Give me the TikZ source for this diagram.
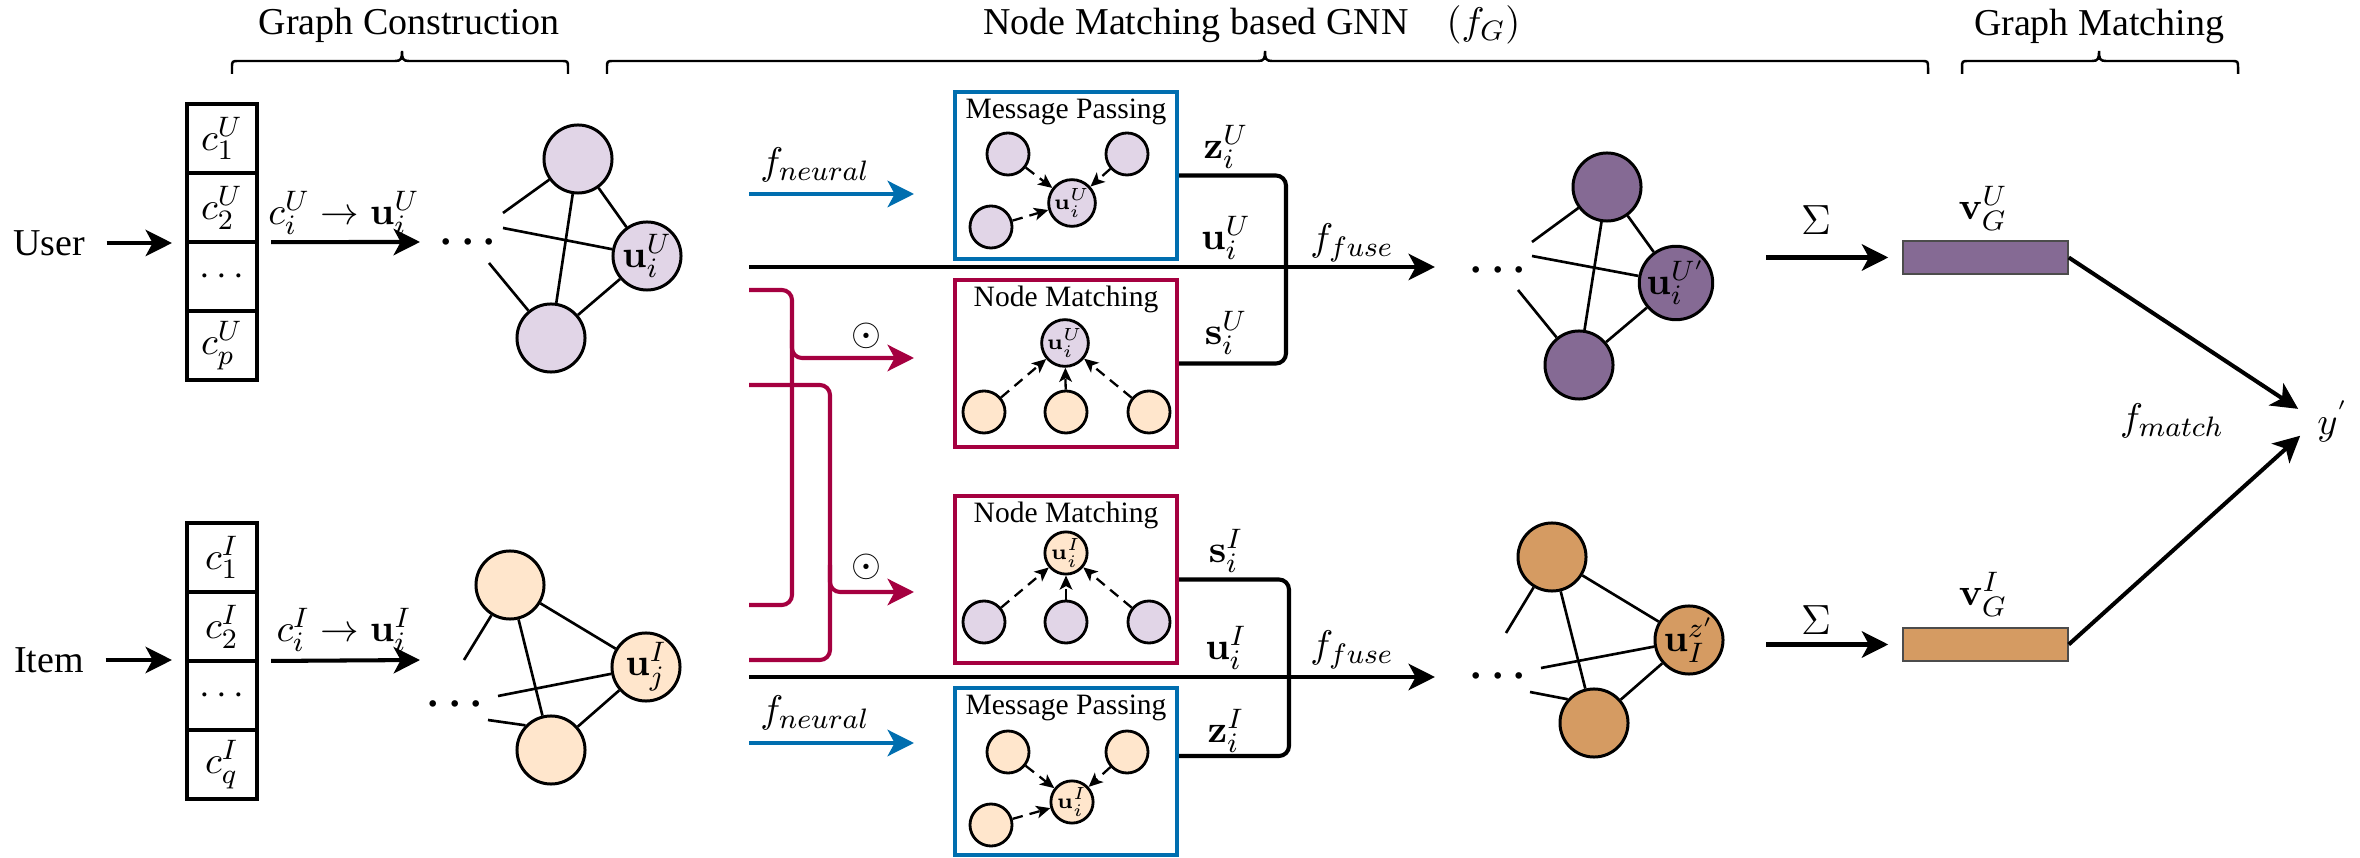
\documentclass[tikz,border=0pt]{standalone}
\usepackage[no-math]{fontspec}
\newfontfamily\tnr{Liberation Serif}
\usetikzlibrary{arrows.meta,calc}
\definecolor{lav}{HTML}{E1D5E7}
\definecolor{peach}{HTML}{FFE6CC}
\definecolor{dpur}{HTML}{856A94}
\definecolor{dora}{HTML}{D59B62}
\definecolor{mpblue}{HTML}{006EAF}
\definecolor{nmred}{HTML}{A50040}
\newcommand\mybrace[3]{%
 \draw[brc] (#1,74) -- (#1,68) .. controls (#1,61) .. ({#1+7},61) -- ({#3-7},61) .. controls ({#3-1},61) and (#3,59) .. (#3,51) .. controls (#3,59) and ({#3+1},61) .. ({#3+7},61) -- ({#2-7},61) .. controls (#2,61) .. (#2,68) -- (#2,74);}
\begin{document}
\begin{tikzpicture}[x=0.01cm,y=-0.01cm,
  every node/.style={font=\tnr\fontsize{10.8}{13}\selectfont, inner sep=0pt},
  arr/.style={line width=1.15pt,-{Stealth[length=7.5pt,width=7.5pt,inset=2pt]}},
  brc/.style={line width=0.7pt},
  brk/.style={line width=1.15pt,rounded corners=0.1cm},
  crl/.style={line width=1.15pt,draw=nmred,rounded corners=0.1cm},
  cell/.style={rectangle,draw,line width=1.2pt,outer sep=0pt,minimum width=0.70cm,minimum height=0.69cm,inner sep=0pt},
  gnode/.style={circle,draw,line width=0.85pt,minimum size=0.68cm,inner sep=0pt},
  snode/.style={circle,draw,line width=0.8pt,minimum size=0.42cm,inner sep=0pt,font=\fontsize{6.5}{7}\selectfont},
  gedge/.style={line width=0.75pt},
  darr/.style={line width=0.65pt,dash pattern=on 3pt off 2pt,-{Stealth[length=4pt,width=3.6pt,inset=1pt]}},
  mpb/.style={rectangle,draw=mpblue,line width=1.1pt,minimum width=2.22cm,minimum height=1.67cm},
  nmb/.style={rectangle,draw=nmred,line width=1.1pt,minimum width=2.22cm,minimum height=1.67cm},
  ttl/.style={anchor=base,font=\tnr\fontsize{8.4}{10}\selectfont},
  dots/.style={font=\fontsize{13}{15}\selectfont\boldmath},
  vrect/.style={rectangle,draw=black!70,line width=0.4pt,minimum width=1.65cm,minimum height=0.33cm}
]
\useasboundingbox (0,0) rectangle (2360,858);

% ---------- headers ----------
\node[anchor=base] (hGC) at (409,35) {Graph Construction};
\node[anchor=base] (hNM) at (1252,35) {Node Matching based GNN\quad$(f_G)$};
\node[anchor=base] (hGM) at (2099,36) {Graph Matching};
\mybrace{232}{568}{402}
\mybrace{607}{1928}{1265}
\mybrace{1962}{2238}{2099}

% ---------- user construction ----------
\node (user) at (49,243) {User};
\node[cell] (cu1) at (222,138.5) {$c_1^U$};
\node[cell,anchor=north] (cu2) at (cu1.south) {$c_2^U$};
\node[cell,anchor=north] (cu3) at (cu2.south) {$\cdots$};
\node[cell,anchor=north] (cu4) at (cu3.south) {$c_p^U$};
\draw[arr,shorten <=0.21cm,shorten >=0.15cm] (user.east) -- (user.east -| cu2.south west);
\coordinate (aU) at (420,242);
\draw[arr,shorten <=0.14cm] (cu2.south east) -- (aU);
\node (lU) at (344,213) {$c_i^U \rightarrow \mathbf{u}_i^U$};
\node[dots] (dU) at (468,243) {$\cdots$};

\node[gnode,fill=lav] (gUt) at (578,159) {};
\node[gnode,fill=lav] (gUu) at (647,256) {$\mathbf{u}_i^U$};
\node[gnode,fill=lav] (gUb) at (551,338) {};
\coordinate (fU1) at (503,213);
\coordinate (fU2) at (503,228);
\coordinate (fU3) at (489,263);
\draw[gedge] (fU1) -- (gUt);
\draw[gedge] (fU2) -- (gUu);
\draw[gedge] (fU3) -- (gUb);
\draw[gedge] (gUt) -- (gUb);
\draw[gedge] (gUt) -- (gUu);
\draw[gedge] (gUu) -- (gUb);

% ---------- item construction ----------
\node (item) at (49,660) {Item};
\node[cell] (ci1) at (222,557.5) {$c_1^I$};
\node[cell,anchor=north] (ci2) at (ci1.south) {$c_2^I$};
\node[cell,anchor=north] (ci3) at (ci2.south) {$\cdots$};
\node[cell,anchor=north] (ci4) at (ci3.south) {$c_q^I$};
\draw[arr,shorten <=0.21cm,shorten >=0.15cm] (item.east) -- (item.east -| ci2.south west);
\coordinate (aI) at (420,660);
\draw[arr,shorten <=0.14cm] (ci2.south east) -- (aI);
\node (lI) at (344,630) {$c_i^I \rightarrow \mathbf{u}_i^I$};
\node[dots] (dI) at (455,705) {$\cdots$};

\node[gnode,fill=peach] (gIt) at (510,585) {};
\node[gnode,fill=peach] (gIu) at (646,667) {$\mathbf{u}_j^I$};
\node[gnode,fill=peach] (gIb) at (551,750) {};
\coordinate (fI1) at (464,660);
\coordinate (fI2) at (498,696);
\coordinate (fI3) at (488,720);
\draw[gedge] (fI1) -- (gIt);
\draw[gedge] (fI2) -- (gIu);
\draw[gedge] (fI3) -- (gIb.136);
\draw[gedge] (gIt) -- (gIb);
\draw[gedge] (gIt) -- (gIu);
\draw[gedge] (gIu) -- (gIb);

% ---------- message passing (user) ----------
\node[mpb] (mp1) at (1066,175.5) {};
\node[ttl] (mp1t) at (1066,119) {Message Passing};
\node[snode,fill=lav] (m1a) at (1008,154) {};
\node[snode,fill=lav] (m1b) at (1127,154) {};
\node[snode,fill=lav] (m1c) at (991,227) {};
\node[snode,fill=lav] (m1u) at (1072,203) {$\mathbf{u}_i^U$};
\draw[darr] (m1a) -- (m1u);
\draw[darr] (m1b) -- (m1u);
\draw[darr] (m1c) -- (m1u);

% ---------- node matching (user) ----------
\node[nmb] (nm1) at (1066,363.5) {};
\node[ttl] (nm1t) at (1066,307) {Node Matching};
\node[snode,fill=lav] (n1u) at (1065,343) {$\mathbf{u}_i^U$};
\node[snode,fill=peach] (n1a) at (984,412) {};
\node[snode,fill=peach] (n1b) at (1066,412) {};
\node[snode,fill=peach] (n1c) at (1149,412) {};
\draw[darr] (n1a) -- (n1u);
\draw[darr] (n1b) -- (n1u);
\draw[darr] (n1c) -- (n1u);

% ---------- node matching (item) ----------
\node[nmb] (nm2) at (1066,579.5) {};
\node[ttl] (nm2t) at (1066,523) {Node Matching};
\node[snode,fill=peach] (n2u) at (1066,553) {$\mathbf{u}_i^I$};
\node[snode,fill=lav] (n2a) at (984,622) {};
\node[snode,fill=lav] (n2b) at (1066,622) {};
\node[snode,fill=lav] (n2c) at (1149,622) {};
\draw[darr] (n2a) -- (n2u);
\draw[darr] (n2b) -- (n2u);
\draw[darr] (n2c) -- (n2u);

% ---------- message passing (item) ----------
\node[mpb] (mp2) at (1066,771.5) {};
\node[ttl] (mp2t) at (1066,715) {Message Passing};
\node[snode,fill=peach] (m2a) at (1008,752) {};
\node[snode,fill=peach] (m2b) at (1127,752) {};
\node[snode,fill=peach] (m2c) at (991,825) {};
\node[snode,fill=peach] (m2u) at (1072,802) {$\mathbf{u}_i^I$};
\draw[darr] (m2a) -- (m2u);
\draw[darr] (m2b) -- (m2u);
\draw[darr] (m2c) -- (m2u);

% ---------- f_neural arrows ----------
\coordinate (bU0) at (749,194);
\coordinate (bU1) at (914,194);
\draw[arr,mpblue] (bU0) -- (bU1);
\node (fnU) at (815,165) {$f_{neural}$};
\coordinate (bI0) at (749,743);
\coordinate (bI1) at (914,743);
\draw[arr,mpblue] (bI0) -- (bI1);
\node (fnI) at (815,713) {$f_{neural}$};

% ---------- crimson matching lines ----------
\coordinate (cA0) at (749,290);
\coordinate (cA1) at (749,605);
\coordinate (cAt) at (914,358);
\draw[crl] (cA0) -- (792,290) -- (792,605) -- (cA1);
\draw[crl,-{Stealth[length=7.5pt,width=7.5pt,inset=2pt]}] (792,330) |- (cAt);
\node (od1) at (866,336) {$\odot$};
\coordinate (cB0) at (749,385);
\coordinate (cB1) at (749,660);
\coordinate (cBt) at (914,592);
\draw[crl] (cB0) -- (830,385) -- (830,660) -- (cB1);
\draw[crl,-{Stealth[length=7.5pt,width=7.5pt,inset=2pt]}] (830,565) |- (cBt);
\node (od2) at (866,567) {$\odot$};

% ---------- fuse lines ----------
\node[dots] (dRU) at (1498,271) {$\cdots$};
\node[dots] (dRI) at (1498,677) {$\cdots$};
\coordinate (uU0) at (749,267);
\draw[arr,shorten >=0.34cm] (uU0) -- (uU0 -| dRU.west);
\coordinate (uI0) at (749,677);
\draw[arr,shorten >=0.34cm] (uI0) -- (uI0 -| dRI.west);
\node (ffU) at (1352,243) {$f_{fuse}$};
\node (ffI) at (1352,650) {$f_{fuse}$};

\draw[brk] (mp1.east) -- ++(107,0) |- (nm1.east);
\draw[brk] (nm2.east) -- ++(110,0) |- ([yshift=0.155cm]mp2.east);
\node (zU) at (1226,147) {$\mathbf{z}_i^U$};
\node (uUl) at (1226,238) {$\mathbf{u}_i^U$};
\node (sU) at (1226,333) {$\mathbf{s}_i^U$};
\node (sI) at (1226,551) {$\mathbf{s}_i^I$};
\node (uIl) at (1226,648) {$\mathbf{u}_i^I$};
\node (zI) at (1226,731) {$\mathbf{z}_i^I$};

% ---------- fused graphs ----------
\node[gnode,fill=dpur] (hUt) at (1607,187) {};
\node[gnode,fill=dpur] (hUu) at (1676,283) {$\mathbf{u}_i^{U'}$};
\node[gnode,fill=dpur] (hUb) at (1579,365) {};
\coordinate (gU1) at (1532,242);
\coordinate (gU2) at (1532,256);
\coordinate (gU3) at (1518,290);
\draw[gedge] (gU1) -- (hUt);
\draw[gedge] (gU2) -- (hUu);
\draw[gedge] (gU3) -- (hUb);
\draw[gedge] (hUt) -- (hUb);
\draw[gedge] (hUt) -- (hUu);
\draw[gedge] (hUu) -- (hUb);

\node[gnode,fill=dora] (hIt) at (1552,557) {};
\node[gnode,fill=dora] (hIu) at (1689,640) {$\mathbf{u}_I^{z'}$};
\node[gnode,fill=dora] (hIb) at (1594,723) {};
\coordinate (gI1) at (1506,633);
\coordinate (gI2) at (1541,668);
\coordinate (gI3) at (1530,692);
\draw[gedge] (gI1) -- (hIt);
\draw[gedge] (gI2) -- (hIu);
\draw[gedge] (gI3) -- (hIb.138);
\draw[gedge] (hIt) -- (hIb);
\draw[gedge] (hIt) -- (hIu);
\draw[gedge] (hIu) -- (hIb);

% ---------- graph matching ----------
\node[vrect,fill=dpur] (vU) at (1985.5,257.5) {};
\node[vrect,fill=dora] (vI) at (1985.5,644.5) {};
\node (vUl) at (1983,208) {$\mathbf{v}_G^U$};
\node (vIl) at (1983,594) {$\mathbf{v}_G^I$};
\coordinate (sgU) at (1766,257.5);
\coordinate (sgI) at (1766,644.5);
\draw[arr,shorten >=0.14cm] (sgU) -- (vU.west);
\draw[arr,shorten >=0.14cm] (sgI) -- (vI.west);
\node[font=\fontsize{13}{15}\selectfont] (sigU) at (1816,220) {$\Sigma$};
\node[font=\fontsize{13}{15}\selectfont] (sigI) at (1816,620) {$\Sigma$};
\node (yp) at (2333,421) {$y^{'}$};
\node (fm) at (2172,421) {$f_{match}$};
\draw[arr,shorten >=0.22cm] (vU.east) -- (yp.west);
\draw[arr,shorten >=0.22cm] (vI.east) -- (yp.west);
\end{tikzpicture}
\end{document}
